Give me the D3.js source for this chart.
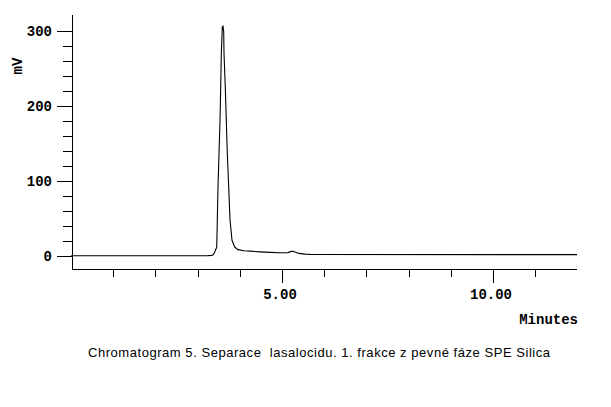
<!DOCTYPE html>
<html>
<head>
<meta charset="utf-8">
<script src="https://cdn.jsdelivr.net/npm/d3@7"></script>
<style>
  body { margin: 0; background: #fff; }
  svg { display: block; }
  .tick-label { font-family: "Liberation Mono", "DejaVu Sans Mono", monospace; font-weight: bold; font-size: 14px; }
  .title { font-family: "Liberation Sans", "DejaVu Sans", sans-serif; font-size: 13px; white-space: pre; }
</style>
</head>
<body>
<script>
// retention time (minutes) / signal (mV)
const times = [0, 3.246, 3.318, 3.365, 3.405, 3.453, 3.467, 3.483, 3.507, 3.531, 3.547, 3.562, 3.585, 3.602,
  3.618, 3.626, 3.656, 3.68, 3.704, 3.737, 3.768, 3.815, 3.879, 3.957, 4.1, 4.24, 4.48, 4.72, 4.95,
  5.14, 5.24, 5.31, 5.40, 5.55, 5.71, 11.99];
const mV = [0.3, 0.5, 0.8, 1.5, 5, 12, 48, 92, 137, 181, 225, 270, 306, 307,
  300, 270, 225, 181, 137, 92, 48, 21, 12, 8.5, 7, 6.5, 5.6, 4.9, 4.4,
  4.6, 6.5, 5.5, 3.5, 2.5, 2, 1.9];

const xMajor = [5, 10];
const xMajorLabels = ["5.00", "10.00"];
const yMajor = [0, 100, 200, 300];
const titleText = "Chromatogram 5. Separace  lasalocidu. 1. frakce z pevné fáze SPE Silica";

const w = 611;
const h = 407;

const xScale = d3.scaleLinear().domain([0, 11.99]).range([71, 577]);
const yScale = d3.scaleLinear().domain([-18, 321.5]).range([269.5, 15.3]);

const svg = d3.select("body").append("svg")
  .attr("width", w)
  .attr("height", h);

const axisX = 72.5, axisY = 269.5;

// y axis
const yMinor = d3.range(0, 320, 20).filter(v => yMajor.indexOf(v) < 0);
svg.append("line")
  .attr("x1", axisX).attr("x2", axisX)
  .attr("y1", yScale(321.5)).attr("y2", axisY)
  .attr("stroke", "#000").attr("shape-rendering", "crispEdges");
svg.selectAll(".ymaj").data(yMajor).enter().append("line")
  .attr("x1", 57).attr("x2", axisX)
  .attr("y1", d => Math.round(yScale(d)) + 0.5).attr("y2", d => Math.round(yScale(d)) + 0.5)
  .attr("stroke", "#000").attr("shape-rendering", "crispEdges");
svg.selectAll(".ymin").data(yMinor).enter().append("line")
  .attr("x1", 63).attr("x2", axisX)
  .attr("y1", d => Math.round(yScale(d)) + 0.5).attr("y2", d => Math.round(yScale(d)) + 0.5)
  .attr("stroke", "#000").attr("shape-rendering", "crispEdges");
svg.selectAll(".ylab").data(yMajor).enter().append("text")
  .attr("class", "tick-label")
  .attr("x", 52)
  .attr("y", d => yScale(d) + 4.5)
  .attr("text-anchor", "end")
  .text(d => d);

// x axis
const xTicks = d3.range(1, 13).filter(t => xScale(t) < 576);
svg.append("line")
  .attr("x1", axisX).attr("x2", 577)
  .attr("y1", axisY).attr("y2", axisY)
  .attr("stroke", "#000").attr("shape-rendering", "crispEdges");
svg.selectAll(".xtick").data(xTicks).enter().append("line")
  .attr("x1", d => Math.round(xScale(d)) + 0.5).attr("x2", d => Math.round(xScale(d)) + 0.5)
  .attr("y1", axisY)
  .attr("y2", d => xMajor.indexOf(d) >= 0 ? 283 : 277)
  .attr("stroke", "#000").attr("shape-rendering", "crispEdges");
svg.selectAll(".xlab").data(xMajor).enter().append("text")
  .attr("class", "tick-label")
  .attr("x", d => xScale(d) - 2)
  .attr("y", 299)
  .attr("text-anchor", "middle")
  .text((d, i) => xMajorLabels[i]);

svg.append("text")
  .attr("class", "tick-label")
  .attr("x", 578).attr("y", 324)
  .attr("text-anchor", "end")
  .text("Minutes");

svg.append("text")
  .attr("class", "tick-label")
  .attr("transform", "translate(22,66) rotate(-90)")
  .attr("text-anchor", "middle")
  .text("mV");

// trace
const line = d3.line()
  .x((d, i) => xScale(times[i]))
  .y(d => yScale(d));

svg.append("path")
  .datum(mV)
  .attr("d", line)
  .attr("fill", "none")
  .attr("stroke", "#000")
  .attr("stroke-width", 1.1);

svg.append("text")
  .attr("class", "title")
  .attr("x", 319).attr("y", 357)
  .attr("text-anchor", "middle")
  .attr("xml:space", "preserve")
  .attr("textLength", 462)
  .attr("lengthAdjust", "spacing")
  .text(titleText);
</script>
</body>
</html>
